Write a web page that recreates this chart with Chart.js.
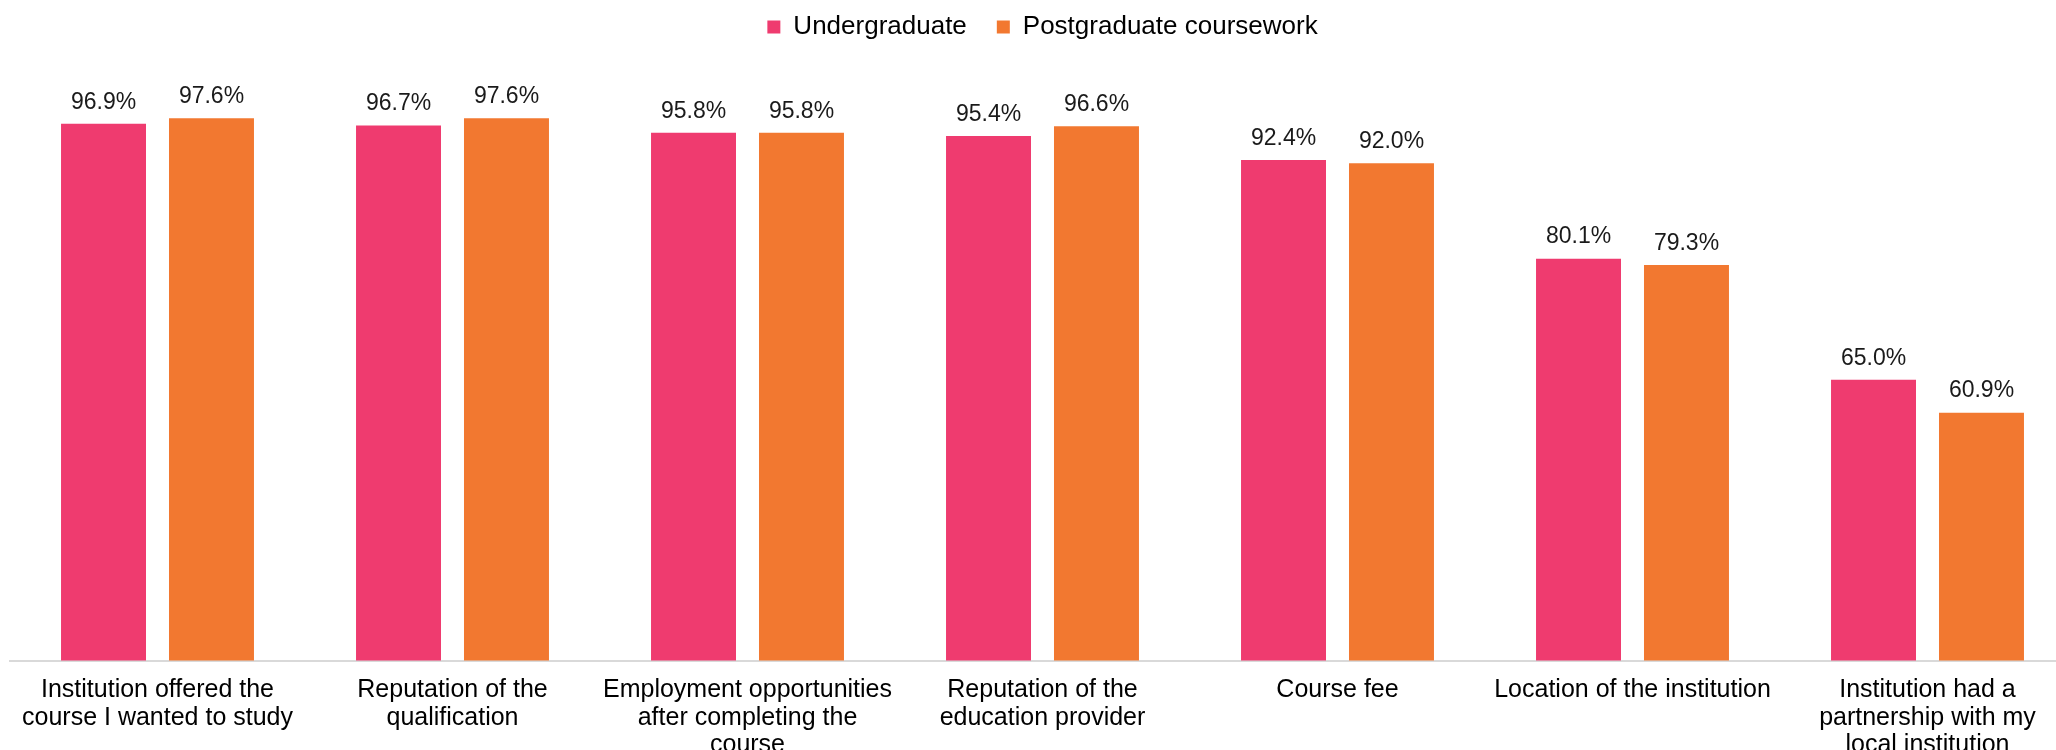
<!DOCTYPE html>
<html lang="en">
<head>
    <meta charset="UTF-8">
    <title>Reasons for choosing institution</title>
    <style>
        html, body {
            margin: 0;
            padding: 0;
            background-color: #ffffff;
            overflow: hidden;
        }
        #chart {
            display: block;
        }
    </style>
</head>
<body>
    <canvas id="chart" width="2080" height="790"></canvas>

    <script src="https://cdn.jsdelivr.net/npm/chart.js"></script>

    <script>
      const categories = [
          ['Institution offered the', 'course I wanted to study'],
          ['Reputation of the', 'qualification'],
          ['Employment opportunities', 'after completing the', 'course'],
          ['Reputation of the', 'education provider'],
          'Course fee',
          'Location of the institution',
          ['Institution had a', 'partnership with my', 'local institution']
      ];
      const undergraduate = [96.9, 96.7, 95.8, 95.4, 92.4, 80.1, 65.0];
      const postgraduate = [97.6, 97.6, 95.8, 96.6, 92.0, 79.3, 60.9];

      const pink = '#ef3b6f';
      const orange = '#f27830';
      const fontFamily = '"Liberation Sans", Arial, sans-serif';

      // value labels above each bar
      const valueLabels = {
          id: 'valueLabels',
          afterDatasetsDraw(chart) {
              const ctx = chart.ctx;
              ctx.save();
              ctx.font = '23px ' + fontFamily;
              ctx.fillStyle = '#1a1a1a';
              ctx.textAlign = 'center';
              ctx.textBaseline = 'bottom';
              chart.data.datasets.forEach((ds, i) => {
                  chart.getDatasetMeta(i).data.forEach((bar, j) => {
                      ctx.fillText(ds.data[j].toFixed(1) + '%', bar.x, bar.y - 10);
                  });
              });
              ctx.restore();
          }
      };

      // extra room between the legend and the bars
      const legendGap = {
          id: 'legendGap',
          beforeInit(chart) {
              const fit = chart.legend.fit;
              chart.legend.fit = function () {
                  fit.call(this);
                  this.height += 49;
              };
          }
      };

      new Chart(document.getElementById('chart').getContext('2d'), {
          type: 'bar',
          data: {
              labels: categories,
              datasets: [
                  { label: 'Undergraduate', data: undergraduate, backgroundColor: pink },
                  { label: 'Postgraduate coursework', data: postgraduate, backgroundColor: orange }
              ]
          },
          options: {
              responsive: false,
              animation: false,
              devicePixelRatio: 1,
              categoryPercentage: 0.732,
              barPercentage: 0.787,
              layout: {
                  padding: { top: -16, left: 10, right: 5, bottom: 23 }
              },
              plugins: {
                  legend: {
                      position: 'top',
                      labels: {
                          boxWidth: 13,
                          boxHeight: 13,
                          padding: 30,
                          color: '#000',
                          font: { family: fontFamily, size: 26 }
                      }
                  },
                  tooltip: { enabled: false }
              },
              scales: {
                  y: {
                      display: false,
                      min: 30,
                      max: 100
                  },
                  x: {
                      grid: { display: false },
                      border: { color: '#d9d9d9', width: 2 },
                      ticks: {
                          color: '#000',
                          maxRotation: 0,
                          autoSkip: false,
                          padding: 8,
                          font: { family: fontFamily, size: 25, lineHeight: 1.1 }
                      }
                  }
              }
          },
          plugins: [valueLabels, legendGap]
      });
    </script>
</body>
</html>
